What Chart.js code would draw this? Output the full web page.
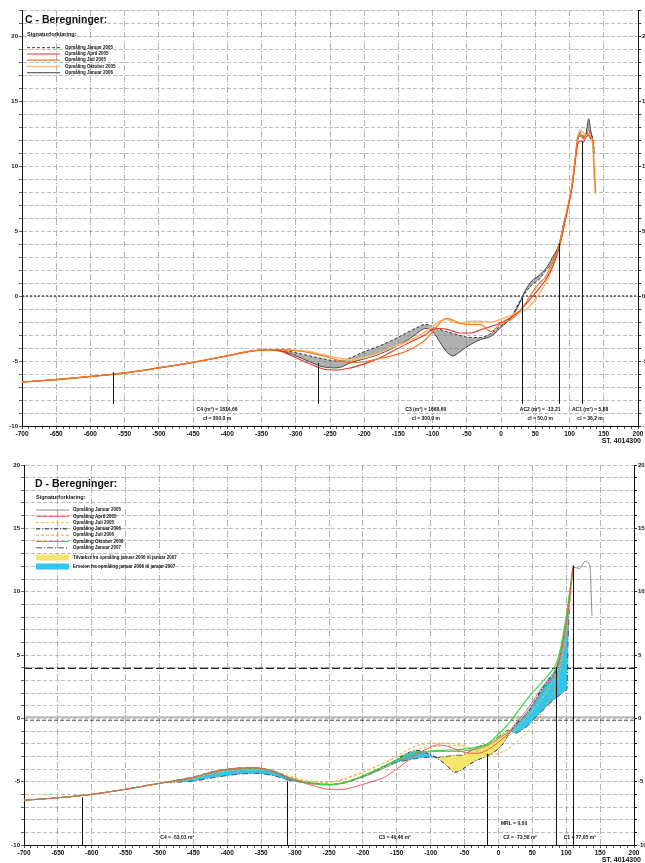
<!DOCTYPE html>
<html>
<head>
<meta charset="utf-8">
<script src="https://cdn.jsdelivr.net/npm/chart.js@4.4.1/dist/chart.umd.min.js"></script>
<style>
body { margin: 0; width: 645px; height: 863px; overflow: hidden; background: #fff; }
.panel { position: relative; width: 660px; }
#boxC { height: 445px; }
#boxD { height: 418px; }
</style>
</head>
<body>
<div class="panel" id="boxC"><canvas id="chartC"></canvas></div>
<div class="panel" id="boxD"><canvas id="chartD"></canvas></div>
<script>
// ---------- C - profil (station, kote) ----------
const stationerC = [-700, -650, -600, -550, -500, -450, -400, -370, -340, -320, -300, -280, -260, -240, -220, -200, -180, -160, -140, -125, -110, -100, -90, -80, -70, -60, -45, -30, -15, 0, 15, 25, 35, 45, 55, 65, 75, 85, 92, 98, 104, 108, 112, 116, 120, 124, 128, 131, 134, 136, 138];
const jan2005C = [-6.62, -6.43, -6.19, -5.92, -5.53, -5.10, -4.60, -4.28,
  -4.13, -4.17, -4.36, -4.60, -4.83, -5.00, -4.75, -4.28,
  -3.89, -3.43, -2.88, -2.49, -2.18, -2.34, -2.57, -2.73,
  -2.88, -3.04, -3.19, -3.19, -2.88, -2.26, -1.56, -0.62,
  0.23, 0.86, 1.25, 1.95, 2.57, 3.97, 5.69, 7.00,
  8.57, 10.36, 12.07, 12.60, 12.30, 12.38, 12.70, 12.46,
  12.07, 11.00, null];
const apr2005C = [-6.62, -6.43, -6.19, -5.92, -5.53, -5.10, -4.60, -4.28,
  -4.13, -4.28, -4.75, -5.22, -5.61, -5.69, -5.53, -5.22,
  -4.83, -4.28, -3.74, -3.35, -2.96, -2.55, -2.50, -2.55,
  -2.70, -2.85, -2.85, -2.60, -2.35, -2.05, -1.64, -1.25,
  -0.70, -0.08, 0.55, 1.25, 2.26, 3.74, 5.37, 6.85,
  8.49, 10.20, 11.68, 11.92, 11.84, 12.23, 12.38, 12.07,
  null, null, null];
const jul2005C = [-6.62, -6.43, -6.19, -5.92, -5.53, -5.10, -4.60, -4.28,
  -4.13, -4.13, -4.20, -4.36, -4.60, -4.91, -5.14, -5.06,
  -4.83, -4.60, -4.28, -3.89, -3.35, -2.73, -2.10, -1.71,
  -1.87, -2.10, -2.18, -2.18, -2.73, -2.10, -1.79, -1.32,
  -0.62, 0.23, 0.93, 1.48, 2.57, 3.89, 5.53, 7.00,
  8.72, 10.50, 12.23, 12.38, 12.07, 12.38, 12.54, 12.23,
  11.90, 9.70, 8.00];
const okt2005C = [-6.62, -6.43, -6.19, -5.92, -5.53, -5.10, -4.60, -4.28,
  -4.13, -4.13, -4.17, -4.28, -4.52, -4.75, -4.91, -4.75,
  -4.44, -3.97, -3.58, -3.19, -2.73, -2.34, -1.95, -1.79,
  -2.02, -2.10, -1.95, -1.95, -2.02, -1.79, -1.48, -1.25,
  -1.10, -0.60, 0.10, 1.00, 2.20, 3.82, 5.45, 6.93,
  8.57, 10.36, 12.30, 12.77, 12.60, 12.23, 12.38, 12.07,
  11.60, 9.35, 7.80];
const jan2006C = [-6.62, -6.43, -6.19, -5.92, -5.53, -5.10, -4.60, -4.28,
  -4.13, -4.24, -4.60, -5.06, -5.45, -5.53, -5.14, -4.83,
  -4.52, -4.05, -3.50, -2.96, -2.49, -2.73, -3.50, -4.28,
  -4.60, -4.28, -3.74, -3.35, -3.10, -2.41, -1.64, -0.78,
  0.39, 1.17, 1.56, 2.10, 2.96, 4.05, 5.69, 7.00,
  8.64, 10.36, 12.00, 12.30, 12.15, 12.46, 13.63, 12.70,
  11.90, 11.30, null];
const markStationC = [-567, -267, 30, 85, 118];
const markTopC = [-5.85, -5.15, -0.15, 4.08, 11.87];
const markBundC = -8.3;
const tekstC = ['C4 (m²) = 1814,66', 'cl = 300,0 m', 'C3 (m²) = 1668,60', 'cl = 300,0 m',
  'AC2 (m²) = -13,21', 'cl = 50,0 m', 'AC1 (m²) = 5,88', 'cl = 36,2 m'];
const tekstStationC = [-415, -415, -110, -110, 57, 57, 130, 130];
const tekstNiveauC = [-8.77, -9.46, -8.77, -9.46, -8.77, -9.46, -8.77, -9.46];
const niveauerC = [0];

// ---------- D - profil ----------
const stationerD = [-700, -650, -600, -550, -500, -450, -420, -390, -360, -330, -310, -290, -270, -250, -230, -210, -190, -170, -150, -135, -120, -105, -90, -75, -65, -55, -45, -35, -25, -15, -5, 5, 15, 25, 35, 45, 55, 65, 75, 85, 92, 98, 101, 103, 106, 110, 120, 128, 135, 138];
const jan2005D = [-6.47, -6.27, -6.00, -5.60, -5.13,
  -4.66, -4.26, -4.00, -3.95, -4.26, -4.74, -5.00, -5.13, -5.21, -5.13, -4.81, -4.42, -3.95, -3.47,
  -3.08, -2.84, -2.68, -2.60, -2.60, -2.60, -2.60, -2.52, -2.45, -2.30, -2.10, -1.80, -1.40,
  -1.10, -0.40, 0.20, 0.90, 1.70, 2.50, 3.20, 4.00, 5.30, 7.10, 8.00, 8.90, 10.30, 11.92, 11.84, 12.40, 12.00, 8.10];
const apr2005D = [-6.47, -6.27, -6.00, -5.60, -5.13,
  -4.66, -4.20, -3.95, -3.90, -4.20, -4.66, -5.05, -5.37, -5.60, -5.60, -5.37, -5.05, -4.70, -4.00,
  -3.40, -2.80, -2.40, -2.10, -2.20, -2.40, -2.60, -2.75, -2.76, -2.70, -2.45, -2.10, -1.66,
  -1.20, -0.60, 0.00, 0.70, 1.40, 2.20, 2.90, 3.70, 5.00, 6.70, 7.70, 8.60, 10.00, 11.92, null, null, null, null];
const jul2005D = [-6.47, -6.27, -6.00, -5.60, -5.13,
  -4.70, -4.26, -4.00, -3.95, -4.18, -4.50, -4.81, -4.97, -5.05, -4.89, -4.50, -4.03, -3.55, -3.08,
  -2.76, -2.45, -2.30, -2.21, -2.13, -2.13, -2.21, -2.37, -2.45, -2.37, -2.21, -1.97, -1.58,
  -1.40, -0.90, -0.30, 0.30, 0.90, 1.60, 2.40, 3.40, 4.80, 6.60, 7.60, 8.50, 9.90, 11.92, null, null, null, null];
const jan2006D = [-6.47, -6.27, -6.00, -5.60, -5.13,
  -4.62, -4.20, -3.95, -3.90, -4.22, -4.74, -4.97, -5.13, -5.21, -5.13, -4.81, -4.42, -3.87, -3.24,
  -2.76, -2.53, -2.76, -3.16, -3.79, -4.26, -4.10, -3.71, -3.39, -3.16, -2.92, -2.60, -2.13,
  -1.30, -0.50, 0.00, 0.60, 1.50, 2.40, 3.10, 3.90, 5.20, 7.00, 7.90, 8.80, 10.20, 11.92, null, null, null, null];
const jul2006D = [-6.47, -6.27, -6.00, -5.60, -5.13,
  -4.74, -4.34, -4.10, -4.03, -4.26, -4.58, -4.89, -5.05, -5.05, -4.81, -4.42, -4.03, -3.55, -3.00,
  -2.50, -2.15, -2.00, -1.95, -1.97, -2.00, -2.10, -2.30, -2.50, -2.70, -2.85, -2.85, -2.68,
  -2.37, -1.97, -1.50, -0.95, -0.32, 0.47, 1.42, 2.60, 4.10, 6.00, 7.20, 8.20, 9.60, 11.92, null, null, null, null];
const okt2006D = [-6.47, -6.27, -6.00, -5.60, -5.13,
  -4.66, -4.20, -3.97, -3.92, -4.20, -4.66, -5.00, -5.20, -5.25, -5.10, -4.75, -4.30, -3.80, -3.30,
  -2.95, -2.70, -2.60, -2.55, -2.50, -2.50, -2.45, -2.40, -2.30, -2.20, -2.00, -1.50, -1.00,
  -0.40, 0.30, 1.00, 1.70, 2.30, 2.90, 3.50, 4.30, 5.60, 7.40, 8.40, 9.20, 10.30, 11.92, null, null, null, null];
const jan2007D = [-6.47, -6.27, -6.00, -5.60, -5.13,
  -4.95, -4.68, -4.45, -4.35, -4.55, -4.88, -5.05, -5.20, -5.25, -5.10, -4.75, -4.34, -3.79, -3.47,
  -3.31, -3.16, -3.08, -3.08, -3.00, -2.92, -2.92, -2.68, -2.37, -2.13, -1.97, -1.66, -1.26,
  -0.95, -1.18, -0.90, -0.50, 0.10, 0.60, 1.15, 1.60, 1.90, 2.15, 2.30, 6.50, 9.80, 11.92, null, null, null, null];
const markStationD = [-614, -312, -17, 85, 110];
const markTopD = [-6.24, -4.97, -2.80, 4.05, 12.07];
const markBundD = -10;
const tekstD = ['C4 = -53,01 m²', 'C3 = 46,46 m²', 'C2 = -73,58 m²', 'C1 = 77,05 m²', 'MRL = 0,00'];
const tekstStationD = [-474, -153, 32, 120, 23];
const tekstNiveauD = [-9.4, -9.4, -9.4, -9.4, -8.3];
const niveauerD = [0.1, -0.15, 3.95];

const fontNavn = '"Liberation Sans", Arial, sans-serif';
Chart.defaults.font.family = fontNavn;
Chart.defaults.animation = false;

const pts = (xs, ys) => xs.map((x, i) => ({x: x, y: ys[i]}));
const rund = (v, n) => Math.abs(v % n) < 1e-6;

function akser(ymin, ymax, venstre, hoejre, bund) {
  const yTicks = {stepSize: 1, autoSkip: false, color: '#111', padding: 1,
    font: {size: 6, weight: 'bold'}, callback: v => (rund(v, 5) ? v : '')};
  return {
    x: {
      type: 'linear', min: -700, max: 200,
      ticks: {stepSize: 10, autoSkip: false, maxRotation: 0, color: '#111', padding: 1,
        font: {size: 6.5, weight: 'bold'}, callback: v => (rund(v, 50) ? v : '')},
      grid: {color: c => (c.tick && rund(c.tick.value, 50) ? '#a0a0a0' : 'rgba(0,0,0,0)'),
        lineWidth: 0.8, tickLength: 3, tickColor: '#222', tickWidth: 0.8},
      border: {color: '#111', width: 1, dash: [6, 2, 1, 2]},
      afterFit: s => { s.height = bund; }
    },
    y: {
      type: 'linear', position: 'left', min: ymin, max: ymax, ticks: yTicks,
      grid: {color: '#a0a0a0', lineWidth: 0.7, tickLength: 3, tickColor: '#222'},
      border: {color: '#111', width: 1, dash: [4, 2]},
      afterFit: s => { s.width = venstre; }
    },
    y2: {
      type: 'linear', position: 'right', min: ymin, max: ymax, ticks: yTicks,
      grid: {drawOnChartArea: false, tickLength: 3, tickColor: '#222'},
      border: {color: '#111', width: 1},
      afterFit: s => { s.width = hoejre; }
    }
  };
}

// tegner titel, signaturforklaring, skillelinjer og tekster
const profil = {
  id: 'profil',
  beforeDatasetsDraw(chart, args, o) {
    const {ctx, chartArea: a, scales: {y}} = chart;
    ctx.save();
    o.niveauer.forEach((lvl, i) => {
      const st = o.niveauStil[i];
      const py = y.getPixelForValue(lvl);
      ctx.strokeStyle = st.color; ctx.lineWidth = st.width; ctx.setLineDash(st.dash);
      ctx.beginPath(); ctx.moveTo(a.left, py); ctx.lineTo(a.right, py); ctx.stroke();
    });
    ctx.restore();
  },
  afterDatasetsDraw(chart, args, o) {
    const {ctx, chartArea: a, scales: {x, y}} = chart;
    ctx.save();
    ctx.strokeStyle = '#111'; ctx.lineWidth = 1; ctx.setLineDash([]);
    o.markStation.forEach((s, i) => {
      const px = Math.round(x.getPixelForValue(s)) + 0.5;
      ctx.beginPath();
      ctx.moveTo(px, y.getPixelForValue(o.markTop[i]));
      ctx.lineTo(px, y.getPixelForValue(o.markBund));
      ctx.stroke();
    });
    ctx.fillStyle = '#111'; ctx.font = 'bold 5px ' + fontNavn;
    ctx.textAlign = 'center'; ctx.textBaseline = 'middle';
    o.tekst.forEach((t, i) => ctx.fillText(t, x.getPixelForValue(o.tekstStation[i]), y.getPixelForValue(o.tekstNiveau[i])));

    ctx.textAlign = 'left';
    ctx.font = 'bold 10.5px ' + fontNavn;
    ctx.fillText(o.titel, a.left + o.titelX, a.top + o.titelY);
    ctx.font = 'bold 5.5px ' + fontNavn;
    ctx.fillText('Signaturforklaring:', a.left + o.legX, a.top + o.sigY);
    ctx.font = 'bold 4.5px ' + fontNavn;
    let ly = a.top + o.legY;
    chart.data.datasets.forEach(ds => {
      ctx.strokeStyle = ds.borderColor; ctx.lineWidth = ds.borderWidth;
      ctx.setLineDash(ds.borderDash || []);
      ctx.beginPath(); ctx.moveTo(a.left + o.legX, ly); ctx.lineTo(a.left + o.legX + 33, ly); ctx.stroke();
      ctx.fillText(ds.label, a.left + o.legX + o.legTekst, ly);
      ly += o.legGap;
    });
    o.flader.forEach((f, k) => {
      const cy = ly + 3.4 + k * 9;
      ctx.fillStyle = f.farve; ctx.fillRect(a.left + o.legX, cy - 3, 33, 6);
      ctx.fillStyle = '#111'; ctx.fillText(f.tekst, a.left + o.legX + o.legTekst, cy);
    });
    ctx.textAlign = 'right'; ctx.font = 'bold 7px ' + fontNavn;
    ctx.fillText('ST. 4014300', 641, chart.height - o.stBund);
    ctx.restore();
  }
};

function linje(label, xs, ys, farve, bredde, dash, order, fill) {
  return {label: label, data: pts(xs, ys), borderColor: farve, borderWidth: bredde, borderDash: dash,
    pointRadius: 0, cubicInterpolationMode: 'monotone', order: order, fill: fill || false, spanGaps: false};
}

const graaFlade = 'rgba(128,128,128,0.62)';
new Chart(document.getElementById('chartC').getContext('2d'), {
  type: 'line',
  data: {datasets: [
    linje('Opmåling Januar 2005', stationerC, jan2005C, '#333333', 1, [3, 2], 3),
    linje('Opmåling April 2005', stationerC, apr2005C, '#e8322a', 1.1, [], 1),
    linje('Opmåling Juli 2005', stationerC, jul2005C, '#f47a20', 1.2, [], 0),
    linje('Opmåling Oktober 2005', stationerC, okt2005C, '#f8bd72', 1.6, [], 2),
    linje('Opmåling Januar 2006', stationerC, jan2006C, '#444444', 1, [], 10,
      {target: 0, above: graaFlade, below: graaFlade})
  ]},
  options: {
    responsive: true, maintainAspectRatio: false,
    layout: {padding: {top: 10, left: 0, right: 0, bottom: 0}},
    scales: akser(-10, 22, 22, 22, 19),
    plugins: {
      legend: {display: false}, tooltip: {enabled: false},
      profil: {
        titel: 'C - Beregninger:', titelX: 3, titelY: 10, sigY: 24.5, legX: 5, legY: 37.7, legGap: 6.25, legTekst: 38,
        flader: [], stBund: 4,
        niveauer: niveauerC, niveauStil: [{color: '#222', width: 1.2, dash: [2, 2]}],
        markStation: markStationC, markTop: markTopC, markBund: markBundC,
        tekst: tekstC, tekstStation: tekstStationC, tekstNiveau: tekstNiveauC
      }
    }
  },
  plugins: [profil]
});

new Chart(document.getElementById('chartD').getContext('2d'), {
  type: 'line',
  data: {datasets: [
    linje('Opmåling Januar 2005', stationerD, jan2005D, '#8a8a8a', 1, [], 2),
    linje('Opmåling April 2005', stationerD, apr2005D, '#f25a5a', 1, [], 0),
    linje('Opmåling Juli 2005', stationerD, jul2005D, '#e9c53a', 1, [3, 2], 3),
    linje('Opmåling Januar 2006', stationerD, jan2006D, '#222222', 1, [4, 2, 1, 2], 5),
    linje('Opmåling Juli 2006', stationerD, jul2006D, '#f0a848', 1, [3, 2], 4),
    linje('Opmåling Oktober 2006', stationerD, okt2006D, '#3dd43d', 1.2, [], 1),
    linje('Opmåling Januar 2007', stationerD, jan2007D, '#555555', 1, [6, 2, 1, 2], 10,
      {target: 3, above: '#f4e56c', below: '#33c6ec'})
  ]},
  options: {
    responsive: true, maintainAspectRatio: false,
    layout: {padding: {top: 20, left: 0, right: 0, bottom: 0}},
    scales: akser(-10, 20, 24, 26, 18),
    plugins: {
      legend: {display: false}, tooltip: {enabled: false},
      profil: {
        titel: 'D - Beregninger:', titelX: 11, titelY: 19, sigY: 32, legX: 12, legY: 45, legGap: 6.3, legTekst: 37,
        flader: [{farve: '#f4e56c', tekst: 'Tilvækst fra opmåling januar 2006 til januar 2007'},
                 {farve: '#33c6ec', tekst: 'Erosion fra opmåling januar 2006 til januar 2007'}],
        stBund: 3,
        niveauer: niveauerD,
        niveauStil: [{color: '#666', width: 0.8, dash: []}, {color: '#333', width: 0.9, dash: [4, 2]},
                     {color: '#222', width: 1.2, dash: [8, 3]}],
        markStation: markStationD, markTop: markTopD, markBund: markBundD,
        tekst: tekstD, tekstStation: tekstStationD, tekstNiveau: tekstNiveauD
      }
    }
  },
  plugins: [profil]
});
</script>
</body>
</html>
